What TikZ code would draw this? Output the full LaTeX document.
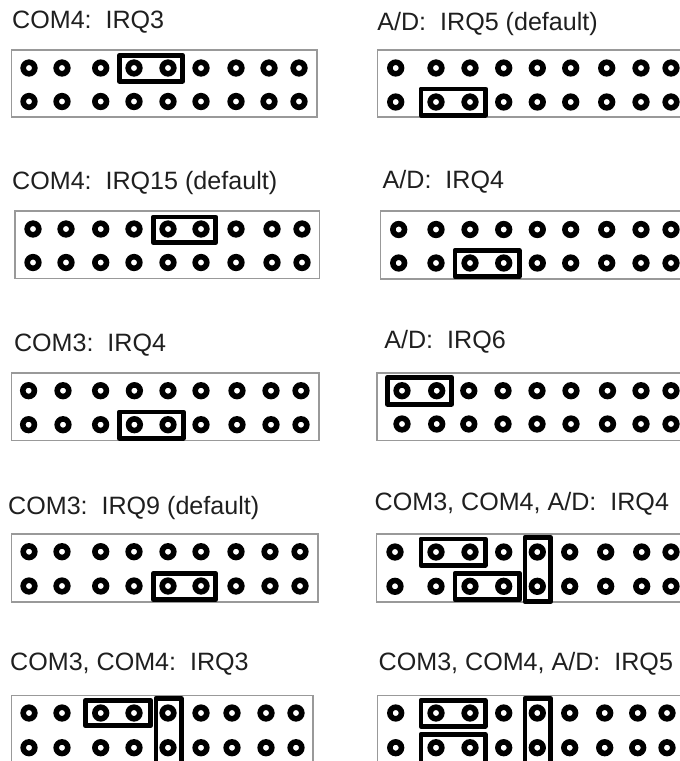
\documentclass[tikz,border=0pt]{standalone}
\usepackage{fontspec}
\setmainfont{Liberation Sans}
\tikzset{
  lbl/.style={anchor=base west,inner sep=0pt,text=black!88,font=\fontsize{25.1}{28}\selectfont},
  board/.style={draw=black!40,line width=1.1pt},
  pin/.style={draw=black,line width=5.6pt,fill=white},
  jumper/.style={draw=black,line width=4.6pt,line join=round}
}
\newcommand{\pinset}[3]{%
  \foreach \px in {#1}{
    \path[pin] (\px,#2) circle[radius=5.8pt];
    \path[pin] (\px,#3) circle[radius=5.8pt];
  }}
% outer edges of the jumper: left right top bottom
\newcommand{\jmp}[4]{\path[jumper] (#1+2.3,#3+2.3) rectangle (#2-2.3,#4-2.3);}
\begin{document}
\begin{tikzpicture}[x=1pt,y=-1pt]
\useasboundingbox (0,0) rectangle (680,761);
\clip (0,0) rectangle (680,761);
\fill[white] (0,0) rectangle (680,761);

% ---------- left column ----------
\node[lbl] (t1) at (12,28) {COM4:\ \ IRQ3};
\path[board] (11.5,50) rectangle (317,117);
\pinset{29,62,100.7,134,168,201,236,269,299}{68}{101.5}
\jmp{117}{185}{53}{83.5}

\node[lbl] (t2) at (12,189) {COM4:\ \ IRQ15 (default)};
\path[board] (15,211) rectangle (319.5,278.5);
\pinset{33,66,100.7,134,168,201,236,272,302}{229}{262.5}
\jmp{151}{218}{214.5}{245}

\node[lbl] (t3) at (13.8,351) {COM3:\ \ IRQ4};
\path[board] (11.5,373) rectangle (319,440.5);
\pinset{28.6,63,100.6,134.4,168,201,237,271,301}{390.7}{424.7}
\jmp{117}{185.5}{409.5}{440.5}

\node[lbl] (t4) at (8,514) {COM3:\ \ IRQ9 (default)};
\path[board] (11.5,534) rectangle (318,602);
\pinset{29,62,100.7,134,168,201,236,270,300}{551.7}{586}
\jmp{151}{218}{571}{602}

\node[lbl] (t5) at (10,670.7) {COM3, COM4:\ \ IRQ3};
\path[board] (11.5,695.7) rectangle (313,775);
\pinset{29,62,100.7,134,168,201,232,266,296}{713}{747.7}
\jmp{83}{153}{698}{728}
\jmp{153.5}{183.5}{696}{775}

% ---------- right column ----------
\node[lbl] (t6) at (377.2,30.7) {A/D:\ \ IRQ5 (default)};
\path[board] (377.3,50) rectangle (690,117);
\pinset{395.7,436,470,503.7,537.3,570.7,606.7,641,671}{68}{102}
\jmp{418.5}{488}{86.5}{117.5}

\node[lbl] (t7) at (382.5,188) {A/D:\ \ IRQ4};
\path[board] (380.7,211) rectangle (690,279);
\pinset{398.7,436,470,503.7,537.3,570.7,606.7,641,671}{229.5}{263}
\jmp{452.5}{521.5}{248}{279}

\node[lbl] (t8) at (384.2,348.7) {A/D:\ \ IRQ6};
\path[board] (377,373) rectangle (690,440.5);
\pinset{402,436.7,468.8,503,537,571,607.5,641,671}{390.7}{424}
\jmp{385}{454}{375}{406.5}

\node[lbl] (t9) at (374.5,510) {COM3, COM4, A/D:\ \ IRQ4};
\path[board] (376.7,534) rectangle (690,602);
\pinset{395,436,470,503.7,537.3,569.7,605.7,641.7,671}{552}{586.3}
\jmp{418.5}{487.5}{536.5}{567.5}
\jmp{452.5}{522}{571}{602}
\jmp{522.5}{553}{535}{604}

\node[lbl] (t10) at (378.5,670) {COM3, COM4, A/D:\ \ IRQ5};
\path[board] (377.7,695.7) rectangle (690,775);
\pinset{395.7,436,470,503.7,537.3,569.7,604.7,637.7,667}{713}{747.7}
\jmp{418.5}{487.5}{698}{728.5}
\jmp{418.5}{487.5}{732}{775}
\jmp{522.5}{553}{696}{775}
\end{tikzpicture}
\end{document}
